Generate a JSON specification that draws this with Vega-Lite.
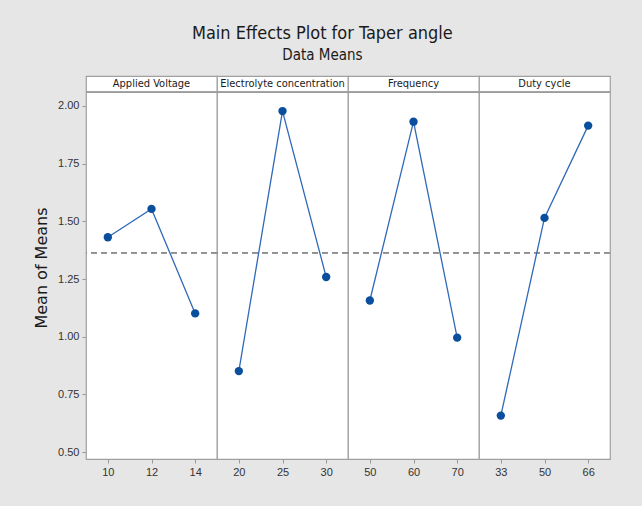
{
  "$schema": "https://vega.github.io/schema/vega-lite/v6.json",
  "background": "#e6e6e6",
  "padding": {"left": 33, "top": 25, "right": 34, "bottom": 28},
  "bounds": "flush",
  "title": {
    "text": "Main Effects Plot for Taper angle",
    "subtitle": "Data Means",
    "font": "DejaVu Sans Condensed, Liberation Sans",
    "fontSize": 18,
    "fontWeight": "normal",
    "color": "#1a1a1a",
    "subtitleFont": "DejaVu Sans Condensed, Liberation Sans",
    "subtitleFontSize": 15,
    "subtitleColor": "#1a1a1a",
    "subtitlePadding": 5,
    "offset": 12,
    "anchor": "middle"
  },
  "data": {
    "values": [
      {"factor": "Applied Voltage", "level": 10, "mean": 1.431},
      {"factor": "Applied Voltage", "level": 12, "mean": 1.554},
      {"factor": "Applied Voltage", "level": 14, "mean": 1.101},
      {"factor": "Electrolyte concentration", "level": 20, "mean": 0.851},
      {"factor": "Electrolyte concentration", "level": 25, "mean": 1.978},
      {"factor": "Electrolyte concentration", "level": 30, "mean": 1.259},
      {"factor": "Frequency", "level": 50, "mean": 1.157},
      {"factor": "Frequency", "level": 60, "mean": 1.932},
      {"factor": "Frequency", "level": 70, "mean": 0.996},
      {"factor": "Duty cycle", "level": 33, "mean": 0.658},
      {"factor": "Duty cycle", "level": 50, "mean": 1.515},
      {"factor": "Duty cycle", "level": 66, "mean": 1.915}
    ]
  },
  "facet": {
    "column": {
      "field": "factor",
      "type": "nominal",
      "sort": ["Applied Voltage", "Electrolyte concentration", "Frequency", "Duty cycle"],
      "header": {"title": null, "labels": false}
    }
  },
  "spacing": {"column": 0, "row": 0},
  "resolve": {"scale": {"x": "independent"}},
  "spec": {
    "width": 131,
    "height": 383,
    "layer": [
      {
        "mark": {"type": "rule", "color": "#9a9a9a", "strokeWidth": 1.2},
        "encoding": {
          "y": {"datum": 2.06, "type": "quantitative", "scale": {"domain": [0.47, 2.13], "nice": false, "zero": false}}
        }
      },
      {
        "mark": {"type": "rule", "color": "#8c8c8c", "strokeWidth": 1.2, "strokeDash": [6, 4]},
        "encoding": {"y": {"datum": 1.363, "type": "quantitative"}}
      },
      {
        "mark": {"type": "line", "color": "#3069b8", "strokeWidth": 1.3},
        "encoding": {
          "x": {
            "field": "level",
            "type": "ordinal",
            "scale": {"type": "point", "padding": 0.5},
            "axis": {
              "title": null,
              "labelAngle": 0,
              "domain": false,
              "tickSize": 4,
              "tickColor": "#999999",
              "labelFont": "Liberation Sans",
              "labelFontSize": 11,
              "labelColor": "#333333",
              "labelPadding": 3
            }
          },
          "y": {
            "field": "mean",
            "type": "quantitative",
            "axis": {
              "title": "Mean of Means",
              "titleFont": "DejaVu Sans",
              "titleFontSize": 16,
              "titleFontWeight": "normal",
              "titleColor": "#1a1a1a",
              "titlePadding": 8,
              "values": [0.5, 0.75, 1.0, 1.25, 1.5, 1.75, 2.0],
              "format": ".2f",
              "grid": false,
              "domain": false,
              "tickSize": 4,
              "tickColor": "#999999",
              "labelFont": "Liberation Sans",
              "labelFontSize": 11,
              "labelColor": "#333333",
              "labelPadding": 3
            }
          }
        }
      },
      {
        "mark": {"type": "point", "filled": true, "opacity": 1, "color": "#0a4f9e", "size": 70},
        "encoding": {
          "x": {"field": "level", "type": "ordinal"},
          "y": {"field": "mean", "type": "quantitative"}
        }
      },
      {
        "transform": [
          {"aggregate": [{"op": "count", "as": "n"}], "groupby": ["factor"]}
        ],
        "mark": {"type": "text", "font": "DejaVu Sans Condensed, Liberation Sans", "fontSize": 11, "color": "#1a1a1a", "baseline": "middle", "align": "center"},
        "encoding": {
          "y": {"datum": 2.094, "type": "quantitative"},
          "text": {"field": "factor", "type": "nominal"}
        }
      }
    ]
  },
  "config": {
    "view": {"stroke": "#a0a0a0", "strokeWidth": 1.2, "fill": "white"}
  }
}
